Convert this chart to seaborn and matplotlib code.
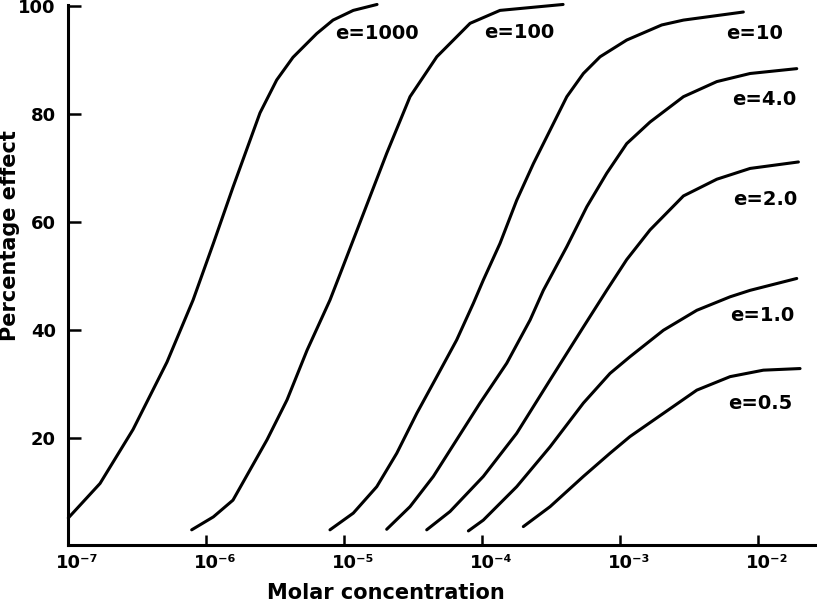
import numpy as np
import pandas as pd
import matplotlib
matplotlib.use("Agg")
import matplotlib.pyplot as plt
import seaborn as sns
from matplotlib.ticker import NullLocator
from matplotlib.transforms import ScaledTranslation

# curves: log10(molar concentration) and percentage effect
efficacy = ["e=1000", "e=100", "e=10", "e=4.0", "e=2.0", "e=1.0", "e=0.5"]

log_conc_e1000 = [-7.000, -6.770, -6.531, -6.285, -6.096, -5.949, -5.807, -5.611,
                  -5.490, -5.372, -5.200, -5.082, -4.935, -4.763]
effect_e1000 = [5.1, 11.5, 21.5, 34.0, 45.5, 56.0, 66.4, 80.2,
                86.3, 90.5, 94.9, 97.4, 99.2, 100.3]

log_conc_e100 = [-6.106, -5.949, -5.807, -5.560, -5.415, -5.270, -5.104, -5.031,
                 -4.862, -4.693, -4.524, -4.330, -4.089, -3.872, -3.415]
effect_e100 = [2.9, 5.3, 8.4, 19.6, 27.0, 36.2, 45.5, 50.3,
               61.5, 72.7, 83.2, 90.6, 96.8, 99.2, 100.3]

log_conc_e10 = [-5.104, -4.935, -4.765, -4.620, -4.475, -4.330, -4.186, -4.065,
                -3.993, -3.872, -3.751, -3.630, -3.509, -3.388, -3.268, -3.147,
                -2.954, -2.700, -2.543, -2.109]
effect_e10 = [2.9, 6.0, 10.9, 17.1, 24.5, 31.3, 38.1, 44.9,
              49.2, 56.0, 64.0, 70.8, 77.0, 83.2, 87.5, 90.6,
              93.7, 96.5, 97.4, 98.9]

log_conc_e4 = [-4.693, -4.524, -4.355, -4.186, -4.017, -3.823, -3.654, -3.558,
               -3.388, -3.243, -3.099, -2.954, -2.785, -2.543, -2.301, -2.060, -1.722]
effect_e4 = [3.0, 7.2, 12.8, 19.6, 26.4, 33.8, 41.8, 47.3,
             55.4, 62.8, 69.0, 74.5, 78.5, 83.2, 86.0, 87.5, 88.4]

log_conc_e2 = [-4.403, -4.234, -3.993, -3.751, -3.509, -3.268, -3.099, -2.954,
               -2.785, -2.543, -2.301, -2.060, -1.710]
effect_e2 = [2.9, 6.3, 12.8, 20.8, 30.7, 40.5, 47.3, 53.0,
             58.5, 64.8, 67.9, 69.9, 71.1]

log_conc_e1 = [-4.101, -3.993, -3.751, -3.509, -3.268, -3.075, -2.930, -2.688,
               -2.446, -2.205, -2.060, -1.722]
effect_e1 = [2.7, 4.7, 10.9, 18.3, 26.4, 31.9, 35.0, 39.9,
             43.6, 46.1, 47.3, 49.5]

log_conc_e05 = [-3.703, -3.509, -3.268, -3.075, -2.930, -2.688, -2.446, -2.205,
                -1.964, -1.698]
effect_e05 = [3.5, 7.2, 12.8, 17.1, 20.2, 24.5, 28.8, 31.3, 32.5, 32.8]

log_conc = [log_conc_e1000, log_conc_e100, log_conc_e10, log_conc_e4,
            log_conc_e2, log_conc_e1, log_conc_e05]
effects = [effect_e1000, effect_e100, effect_e10, effect_e4,
           effect_e2, effect_e1, effect_e05]

xtick_vals = [1e-7, 1e-6, 1e-5, 1e-4, 1e-3, 1e-2]
xtick_labels = ["10⁻⁷", "10⁻⁶", "10⁻⁵", "10⁻⁴", "10⁻³", "10⁻²"]
ytick_vals = [20, 40, 60, 80, 100]

# where the curve labels sit (log10 conc, effect)
label_pos = [(-4.763, 95.0), (-3.734, 95.1), (-2.028, 94.9), (-1.955, 82.6),
             (-1.948, 64.2), (-1.970, 42.7), (-1.984, 26.4)]

frames = []
for lab, lc, ef in zip(efficacy, log_conc, effects):
    frames.append(pd.DataFrame({"conc": 10.0 ** np.array(lc), "effect": ef, "efficacy": lab}))
df = pd.concat(frames, ignore_index=True)

sns.set_style("ticks")
plt.rcParams["font.family"] = ["DejaVu Sans"]
for key in ["text.color", "axes.labelcolor", "xtick.color", "ytick.color", "axes.edgecolor"]:
    plt.rcParams[key] = "black"

fig, ax = plt.subplots(figsize=(8.17, 6.02), dpi=100)
fig.subplots_adjust(left=0.0836, right=0.9975, bottom=0.0939, top=0.9917)

sns.lineplot(data=df, x="conc", y="effect", hue="efficacy", hue_order=efficacy,
             palette={e: "black" for e in efficacy}, estimator=None, sort=False,
             legend=False, linewidth=2.2, ax=ax)
for ln in ax.lines:
    ln.set_clip_on(False)
    ln.set_solid_capstyle("round")
    ln.set_solid_joinstyle("round")

for lab, (lx, ly) in zip(efficacy, label_pos):
    ax.text(10 ** lx, ly, lab, ha="center", va="center", fontsize=14, fontweight="bold")

ax.set_xscale("log")
ax.set_xlim(1e-7, 10 ** -1.59)
ax.set_ylim(0, 100.2)
ax.set_xticks(xtick_vals, xtick_labels)
ax.xaxis.set_minor_locator(NullLocator())
ax.set_yticks(ytick_vals, [str(v) for v in ytick_vals])

ax.tick_params(axis="both", direction="in", width=1.8, labelsize=13)
ax.tick_params(axis="y", length=9, pad=9)
ax.tick_params(axis="x", length=7, pad=6)
for t in ax.get_xticklabels() + ax.get_yticklabels():
    t.set_fontweight("bold")
shift = ScaledTranslation(-0.125, 0, fig.dpi_scale_trans)
for t in ax.get_xticklabels():
    t.set_horizontalalignment("left")
    t.set_transform(t.get_transform() + shift)

sns.despine(ax=ax)
for s in ["left", "bottom"]:
    ax.spines[s].set_linewidth(2.2)

ax.set_xlabel("Molar concentration", fontsize=15, fontweight="bold")
ax.set_ylabel("Percentage effect", fontsize=15, fontweight="bold")
ax.xaxis.set_label_coords(0.4255, -0.069)
ax.yaxis.set_label_coords(-0.0647, 0.573)

fig.savefig("out.png", dpi=100)
